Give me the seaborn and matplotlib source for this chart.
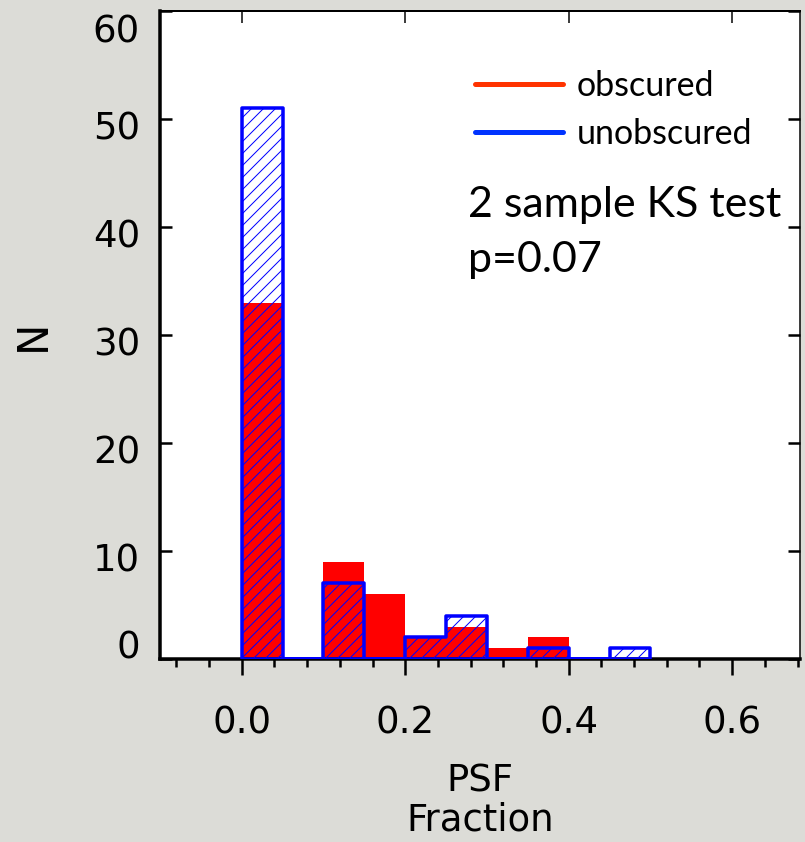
import numpy as np
import pandas as pd
import matplotlib
matplotlib.use("Agg")
import matplotlib.pyplot as plt
import matplotlib.transforms as mtransforms
from matplotlib.lines import Line2D
from matplotlib.ticker import MultipleLocator
import seaborn as sns

# ---------------- data ----------------
bin_edges = [0.00, 0.05, 0.10, 0.15, 0.20, 0.25, 0.30, 0.35, 0.40, 0.45, 0.50]
obscured_counts = [33, 0, 9, 6, 2, 3, 1, 2, 0, 0]
unobscured_counts = [51, 0, 7, 0, 2, 4, 0, 1, 0, 1]
x_ticks = [0.0, 0.2, 0.4, 0.6]
x_tick_labels = ["0.0", "0.2", "0.4", "0.6"]
y_ticks = [0, 10, 20, 30, 40, 50, 60]
legend_labels = ["obscured", "unobscured"]
annotation_lines = ["2 sample KS test", "p=0.07"]

# ---------------- style ----------------
sns.set_theme(style="ticks")
plt.rcParams["hatch.linewidth"] = 1.0
plt.rcParams["font.family"] = ["DejaVu Sans"]
plt.rcParams["text.color"] = "black"
plt.rcParams["axes.labelcolor"] = "black"
plt.rcParams["xtick.color"] = "black"
plt.rcParams["ytick.color"] = "black"
plt.rcParams["xtick.labelcolor"] = "black"
plt.rcParams["ytick.labelcolor"] = "black"

DPI = 72
W, H = 805, 842
fig = plt.figure(figsize=(W / DPI, H / DPI), dpi=DPI, facecolor="#dcdcd7")
ax = fig.add_axes([160 / W, 1 - 659 / H, 640 / W, 648 / H])
ax.set_facecolor("white")

centers = [(a + b) / 2 for a, b in zip(bin_edges[:-1], bin_edges[1:])]
df = pd.DataFrame({"center": centers,
                   "obscured": obscured_counts,
                   "unobscured": unobscured_counts})

sns.histplot(data=df, x="center", weights="obscured", bins=bin_edges,
             element="bars", fill=True, color="#ff0000", alpha=1,
             linewidth=0, ax=ax, zorder=1)
sns.histplot(data=df, x="center", weights="unobscured", bins=bin_edges,
             element="step", fill=True, color="#0000ff", facecolor="none",
             edgecolor="#0000ff", hatch="//", linewidth=3.5, alpha=1, ax=ax,
             zorder=3)

ax.set_xlim(-0.1, 0.683)
ax.set_ylim(0, 60)

for side in ["left", "bottom"]:
    ax.spines[side].set_linewidth(3.5)
    ax.spines[side].set_color("black")
ax.spines["top"].set_linewidth(2)
ax.spines["top"].set_color("black")
ax.spines["right"].set_linewidth(1.5)
ax.spines["right"].set_color("black")
for s in ax.spines.values():
    s.set_zorder(2.5)

ax.set_xticks(x_ticks)
ax.set_xticklabels(x_tick_labels)
ax.xaxis.set_minor_locator(MultipleLocator(0.04))
ax.tick_params(axis="x", which="major", direction="out", length=16, width=2.5,
               pad=30, labelsize=37, bottom=True, top=False, color="black")
ax.tick_params(axis="x", which="minor", direction="out", length=8, width=2.5,
               bottom=True, top=False, color="black")
ax.set_yticks(y_ticks)
ax.tick_params(axis="y", which="major", direction="in", length=12, width=2.5,
               left=True, right=True, pad=20, labelsize=37, color="black")
ax.tick_params(axis="y", which="minor", left=False, right=False)

# IDL-like placement of the y tick labels (end labels pulled inward)
y_label_shift_px = {0: 15, 60: -17}
for tick, val in zip(ax.yaxis.get_major_ticks(), y_ticks):
    dy = y_label_shift_px.get(val, -6)
    tick.label1.set_transform(tick.label1.get_transform() +
                              mtransforms.ScaledTranslation(0, dy / DPI, fig.dpi_scale_trans))

sec = ax.secondary_xaxis("top")
sec.set_xticks(x_ticks)
sec.tick_params(direction="in", length=12, width=1.5, labeltop=False, color="black")
sec.spines["top"].set_visible(False)

ax.set_xlabel("PSF\nFraction", fontsize=37, linespacing=1.1, labelpad=20)
ax.set_ylabel("N", fontsize=42, labelpad=39)

handles = [Line2D([], [], color="#ff3300", lw=5),
           Line2D([], [], color="#0033ff", lw=5)]
ax.legend(handles=handles, labels=legend_labels, loc="upper left",
          bbox_to_anchor=(475 / W, 1 - 70 / H), bbox_transform=fig.transFigure,
          frameon=False, prop={"family": "Lato", "size": 34},
          handlelength=2.6, handletextpad=0.38, labelspacing=0.48,
          borderpad=0, borderaxespad=0)

fig.text(468 / W, 1 - 217 / H, annotation_lines[0], fontsize=43,
         family="Lato", va="baseline", ha="left")
fig.text(468 / W, 1 - 272 / H, annotation_lines[1], fontsize=43,
         family="Lato", va="baseline", ha="left")

fig.savefig("out.png", dpi=DPI, facecolor=fig.get_facecolor())
